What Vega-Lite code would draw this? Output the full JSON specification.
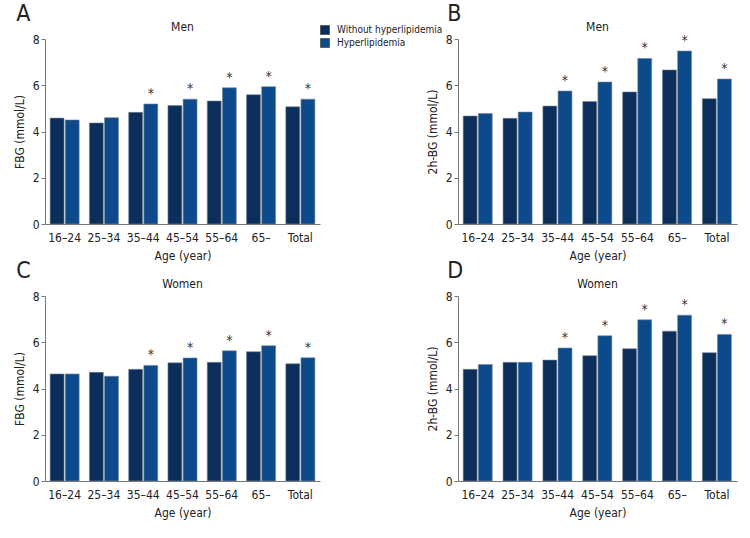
{
  "$schema": "https://vega.github.io/schema/vega-lite/v6.json",
  "padding": {"left": 13, "top": 3, "right": 5, "bottom": 5},
  "background": "white",
  "datasets": {
    "bg": [
      {"panel":"A","age":"16–24","group":"Without hyperlipidemia","value":4.58,"sig":false},
      {"panel":"A","age":"16–24","group":"Hyperlipidemia","value":4.50,"sig":false},
      {"panel":"A","age":"25–34","group":"Without hyperlipidemia","value":4.37,"sig":false},
      {"panel":"A","age":"25–34","group":"Hyperlipidemia","value":4.60,"sig":false},
      {"panel":"A","age":"35–44","group":"Without hyperlipidemia","value":4.83,"sig":false},
      {"panel":"A","age":"35–44","group":"Hyperlipidemia","value":5.19,"sig":true},
      {"panel":"A","age":"45–54","group":"Without hyperlipidemia","value":5.12,"sig":false},
      {"panel":"A","age":"45–54","group":"Hyperlipidemia","value":5.40,"sig":true},
      {"panel":"A","age":"55–64","group":"Without hyperlipidemia","value":5.32,"sig":false},
      {"panel":"A","age":"55–64","group":"Hyperlipidemia","value":5.89,"sig":true},
      {"panel":"A","age":"65–","group":"Without hyperlipidemia","value":5.59,"sig":false},
      {"panel":"A","age":"65–","group":"Hyperlipidemia","value":5.94,"sig":true},
      {"panel":"A","age":"Total","group":"Without hyperlipidemia","value":5.07,"sig":false},
      {"panel":"A","age":"Total","group":"Hyperlipidemia","value":5.40,"sig":true},
      {"panel":"B","age":"16–24","group":"Without hyperlipidemia","value":4.67,"sig":false},
      {"panel":"B","age":"16–24","group":"Hyperlipidemia","value":4.78,"sig":false},
      {"panel":"B","age":"25–34","group":"Without hyperlipidemia","value":4.57,"sig":false},
      {"panel":"B","age":"25–34","group":"Hyperlipidemia","value":4.84,"sig":false},
      {"panel":"B","age":"35–44","group":"Without hyperlipidemia","value":5.10,"sig":false},
      {"panel":"B","age":"35–44","group":"Hyperlipidemia","value":5.75,"sig":true},
      {"panel":"B","age":"45–54","group":"Without hyperlipidemia","value":5.30,"sig":false},
      {"panel":"B","age":"45–54","group":"Hyperlipidemia","value":6.14,"sig":true},
      {"panel":"B","age":"55–64","group":"Without hyperlipidemia","value":5.71,"sig":false},
      {"panel":"B","age":"55–64","group":"Hyperlipidemia","value":7.16,"sig":true},
      {"panel":"B","age":"65–","group":"Without hyperlipidemia","value":6.66,"sig":false},
      {"panel":"B","age":"65–","group":"Hyperlipidemia","value":7.48,"sig":true},
      {"panel":"B","age":"Total","group":"Without hyperlipidemia","value":5.42,"sig":false},
      {"panel":"B","age":"Total","group":"Hyperlipidemia","value":6.27,"sig":true},
      {"panel":"C","age":"16–24","group":"Without hyperlipidemia","value":4.63,"sig":false},
      {"panel":"C","age":"16–24","group":"Hyperlipidemia","value":4.63,"sig":false},
      {"panel":"C","age":"25–34","group":"Without hyperlipidemia","value":4.70,"sig":false},
      {"panel":"C","age":"25–34","group":"Hyperlipidemia","value":4.53,"sig":false},
      {"panel":"C","age":"35–44","group":"Without hyperlipidemia","value":4.83,"sig":false},
      {"panel":"C","age":"35–44","group":"Hyperlipidemia","value":5.00,"sig":true},
      {"panel":"C","age":"45–54","group":"Without hyperlipidemia","value":5.11,"sig":false},
      {"panel":"C","age":"45–54","group":"Hyperlipidemia","value":5.32,"sig":true},
      {"panel":"C","age":"55–64","group":"Without hyperlipidemia","value":5.13,"sig":false},
      {"panel":"C","age":"55–64","group":"Hyperlipidemia","value":5.63,"sig":true},
      {"panel":"C","age":"65–","group":"Without hyperlipidemia","value":5.59,"sig":false},
      {"panel":"C","age":"65–","group":"Hyperlipidemia","value":5.85,"sig":true},
      {"panel":"C","age":"Total","group":"Without hyperlipidemia","value":5.07,"sig":false},
      {"panel":"C","age":"Total","group":"Hyperlipidemia","value":5.33,"sig":true},
      {"panel":"D","age":"16–24","group":"Without hyperlipidemia","value":4.83,"sig":false},
      {"panel":"D","age":"16–24","group":"Hyperlipidemia","value":5.04,"sig":false},
      {"panel":"D","age":"25–34","group":"Without hyperlipidemia","value":5.13,"sig":false},
      {"panel":"D","age":"25–34","group":"Hyperlipidemia","value":5.13,"sig":false},
      {"panel":"D","age":"35–44","group":"Without hyperlipidemia","value":5.23,"sig":false},
      {"panel":"D","age":"35–44","group":"Hyperlipidemia","value":5.75,"sig":true},
      {"panel":"D","age":"45–54","group":"Without hyperlipidemia","value":5.42,"sig":false},
      {"panel":"D","age":"45–54","group":"Hyperlipidemia","value":6.28,"sig":true},
      {"panel":"D","age":"55–64","group":"Without hyperlipidemia","value":5.72,"sig":false},
      {"panel":"D","age":"55–64","group":"Hyperlipidemia","value":6.97,"sig":true},
      {"panel":"D","age":"65–","group":"Without hyperlipidemia","value":6.48,"sig":false},
      {"panel":"D","age":"65–","group":"Hyperlipidemia","value":7.17,"sig":true},
      {"panel":"D","age":"Total","group":"Without hyperlipidemia","value":5.55,"sig":false},
      {"panel":"D","age":"Total","group":"Hyperlipidemia","value":6.34,"sig":true}
    ]
  },
  "data": {"name": "bg"},
  "resolve": {"scale": {"color": "shared"}, "legend": {"color": "shared"}},
  "spacing": -1,
  "vconcat": [
    {
      "spacing": 106,
      "hconcat": [
        {
          "title": {"text": "A", "anchor": "start", "frame": "bounds", "fontSize": 23, "fontWeight": "normal", "dx": 3, "offset": -5},
          "vconcat": [
            {
              "width": 275, "height": 185,
              "title": {"text": "Men"},
              "transform": [{"filter": "datum.panel === 'A'"}],
              "encoding": {
                "x": {"field": "age", "type": "nominal", "sort": ["16–24","25–34","35–44","45–54","55–64","65–","Total"], "scale": {"paddingInner": 0.26, "paddingOuter": 0.13}, "axis": {"title": "Age (year)"}},
                "y": {"field": "value", "type": "quantitative", "scale": {"domain": [0, 8], "nice": false}, "axis": {"title": "FBG (mmol/L)", "values": [0, 2, 4, 6, 8]}}
              },
              "layer": [
                {"mark": {"type": "bar", "stroke": "#7a8795", "strokeWidth": 0.6},
                 "encoding": {"xOffset": {"field": "group", "sort": ["Without hyperlipidemia", "Hyperlipidemia"], "scale": {"paddingInner": 0.08}},
                              "color": {"field": "group", "type": "nominal", "sort": ["Without hyperlipidemia", "Hyperlipidemia"], "scale": {"range": ["#0b2e5b", "#0d4a8b"]}, "legend": {"title": null}}}},
                {"transform": [{"filter": "datum.sig"}],
                 "mark": {"type": "text", "text": "*", "dy": -6, "baseline": "alphabetic", "fontSize": 14, "color": "#333"},
                 "encoding": {"xOffset": {"field": "group", "sort": ["Without hyperlipidemia", "Hyperlipidemia"]}}}
              ]
            }
          ]
        },
        {
          "title": {"text": "B", "anchor": "start", "frame": "bounds", "fontSize": 23, "fontWeight": "normal", "dx": 21, "offset": -5},
          "vconcat": [
            {
              "width": 279, "height": 185,
              "title": {"text": "Men"},
              "transform": [{"filter": "datum.panel === 'B'"}],
              "encoding": {
                "x": {"field": "age", "type": "nominal", "sort": ["16–24","25–34","35–44","45–54","55–64","65–","Total"], "scale": {"paddingInner": 0.26, "paddingOuter": 0.13}, "axis": {"title": "Age (year)"}},
                "y": {"field": "value", "type": "quantitative", "scale": {"domain": [0, 8], "nice": false}, "axis": {"title": "2h-BG (mmol/L)", "values": [0, 2, 4, 6, 8]}}
              },
              "layer": [
                {"mark": {"type": "bar", "stroke": "#7a8795", "strokeWidth": 0.6},
                 "encoding": {"xOffset": {"field": "group", "sort": ["Without hyperlipidemia", "Hyperlipidemia"], "scale": {"paddingInner": 0.08}},
                              "color": {"field": "group", "type": "nominal", "sort": ["Without hyperlipidemia", "Hyperlipidemia"], "scale": {"range": ["#0b2e5b", "#0d4a8b"]}, "legend": {"title": null}}}},
                {"transform": [{"filter": "datum.sig"}],
                 "mark": {"type": "text", "text": "*", "dy": -6, "baseline": "alphabetic", "fontSize": 14, "color": "#333"},
                 "encoding": {"xOffset": {"field": "group", "sort": ["Without hyperlipidemia", "Hyperlipidemia"]}}}
              ]
            }
          ]
        }
      ]
    },
    {
      "spacing": 106,
      "hconcat": [
        {
          "title": {"text": "C", "anchor": "start", "frame": "bounds", "fontSize": 23, "fontWeight": "normal", "dx": 3, "offset": -5},
          "vconcat": [
            {
              "width": 275, "height": 185,
              "title": {"text": "Women"},
              "transform": [{"filter": "datum.panel === 'C'"}],
              "encoding": {
                "x": {"field": "age", "type": "nominal", "sort": ["16–24","25–34","35–44","45–54","55–64","65–","Total"], "scale": {"paddingInner": 0.26, "paddingOuter": 0.13}, "axis": {"title": "Age (year)"}},
                "y": {"field": "value", "type": "quantitative", "scale": {"domain": [0, 8], "nice": false}, "axis": {"title": "FBG (mmol/L)", "values": [0, 2, 4, 6, 8]}}
              },
              "layer": [
                {"mark": {"type": "bar", "stroke": "#7a8795", "strokeWidth": 0.6},
                 "encoding": {"xOffset": {"field": "group", "sort": ["Without hyperlipidemia", "Hyperlipidemia"], "scale": {"paddingInner": 0.08}},
                              "color": {"field": "group", "type": "nominal", "sort": ["Without hyperlipidemia", "Hyperlipidemia"], "scale": {"range": ["#0b2e5b", "#0d4a8b"]}, "legend": {"title": null}}}},
                {"transform": [{"filter": "datum.sig"}],
                 "mark": {"type": "text", "text": "*", "dy": -6, "baseline": "alphabetic", "fontSize": 14, "color": "#333"},
                 "encoding": {"xOffset": {"field": "group", "sort": ["Without hyperlipidemia", "Hyperlipidemia"]}}}
              ]
            }
          ]
        },
        {
          "title": {"text": "D", "anchor": "start", "frame": "bounds", "fontSize": 23, "fontWeight": "normal", "dx": 21, "offset": -5},
          "vconcat": [
            {
              "width": 279, "height": 185,
              "title": {"text": "Women"},
              "transform": [{"filter": "datum.panel === 'D'"}],
              "encoding": {
                "x": {"field": "age", "type": "nominal", "sort": ["16–24","25–34","35–44","45–54","55–64","65–","Total"], "scale": {"paddingInner": 0.26, "paddingOuter": 0.13}, "axis": {"title": "Age (year)"}},
                "y": {"field": "value", "type": "quantitative", "scale": {"domain": [0, 8], "nice": false}, "axis": {"title": "2h-BG (mmol/L)", "values": [0, 2, 4, 6, 8]}}
              },
              "layer": [
                {"mark": {"type": "bar", "stroke": "#7a8795", "strokeWidth": 0.6},
                 "encoding": {"xOffset": {"field": "group", "sort": ["Without hyperlipidemia", "Hyperlipidemia"], "scale": {"paddingInner": 0.08}},
                              "color": {"field": "group", "type": "nominal", "sort": ["Without hyperlipidemia", "Hyperlipidemia"], "scale": {"range": ["#0b2e5b", "#0d4a8b"]}, "legend": {"title": null}}}},
                {"transform": [{"filter": "datum.sig"}],
                 "mark": {"type": "text", "text": "*", "dy": -6, "baseline": "alphabetic", "fontSize": 14, "color": "#333"},
                 "encoding": {"xOffset": {"field": "group", "sort": ["Without hyperlipidemia", "Hyperlipidemia"]}}}
              ]
            }
          ]
        }
      ]
    }
  ],
  "config": {
    "font": "DejaVu Sans Condensed, sans-serif",
    "view": {"stroke": null},
    "title": {"fontSize": 12, "fontWeight": "normal", "color": "#222", "offset": -1},
    "axis": {"labelFontSize": 12, "titleFontSize": 12, "titleFontWeight": "normal", "labelColor": "#222", "titleColor": "#222", "domainColor": "#777", "tickColor": "#777", "grid": false},
    "axisX": {"labelAngle": 0, "ticks": false, "labelPadding": 8, "titlePadding": 7},
    "axisY": {"tickSize": 4, "labelPadding": 2, "titlePadding": 6},
    "legend": {"orient": "none", "legendX": 275, "legendY": -14, "symbolType": "square", "symbolSize": 81, "symbolStrokeWidth": 0.6, "symbolStrokeColor": "#333", "labelFontSize": 10, "labelColor": "#222", "rowPadding": 1, "labelOffset": 7}
  }
}
